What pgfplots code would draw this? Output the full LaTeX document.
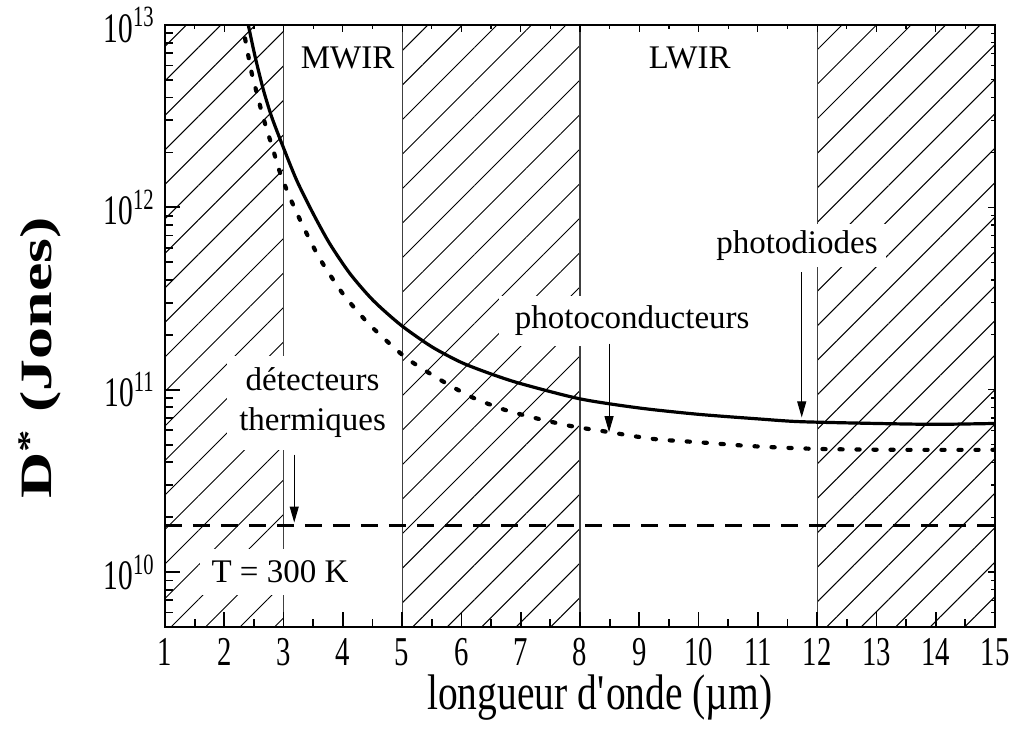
\documentclass[border=0pt]{standalone}
\usepackage{fontspec}
\setmainfont{Liberation Serif}
\newfontfamily\condensed[FakeStretch=0.7]{Liberation Serif}
\newfontfamily\xlabfont[FakeStretch=0.79]{Liberation Serif}
\usepackage{pgfplots}
\pgfplotsset{compat=1.18}
\usetikzlibrary{patterns.meta,arrows.meta}

\begin{document}
\begin{tikzpicture}
\tikzset{
  hatch/.style={draw=black!75, line width=0.6pt,
    pattern={Lines[angle=45, distance=12.2pt, line width=0.5pt]}},
  annot/.style={font=\fontsize{16.5}{20}\selectfont, fill=white},
  arr/.style={line width=0.5pt, -{Triangle[length=8pt, width=4.5pt]}},
}
\begin{axis}[
  scale only axis, width=415pt, height=301pt,
  ymode=log, xmin=1, xmax=15, ymin=5e9, ymax=1e13,
  xtick={1,...,15}, minor x tick num=1,
  ytick={1e10,1e11,1e12,1e13},
  yticklabels={10\textsuperscript{10},10\textsuperscript{11},10\textsuperscript{12},10\textsuperscript{13}},
  minor ytick={6e9,7e9,8e9,9e9,2e10,3e10,4e10,5e10,6e10,7e10,8e10,9e10,
    2e11,3e11,4e11,5e11,6e11,7e11,8e11,9e11,2e12,3e12,4e12,5e12,6e12,7e12,8e12,9e12},
  tick align=inside, xtick pos=bottom, ytick pos=left,
  major tick length=7.5pt, minor tick length=4pt,
  every tick/.style={black, line width=0.9pt},
  axis line style={line width=1.1pt},
  axis on top,
  /pgf/number format/assume math mode=true,
  xticklabel style={font=\condensed\fontsize{20.5}{20.5}\selectfont, inner sep=0pt, yshift=-5.5pt},
  yticklabel style={font=\condensed\fontsize{21}{21}\selectfont, inner sep=0pt, xshift=-5pt},
  xlabel={\xlabfont\fontsize{25}{25}\selectfont longueur d\textquotesingle onde (µm)},
  xlabel style={at={(axis description cs:0.524,-0.118)}, anchor=center, inner sep=0pt},
  ylabel={\scalebox{1}[0.7]{\bfseries\fontsize{32}{32}\selectfont D\textsuperscript{*}\ (Jones)}},
  ylabel style={at={(axis description cs:-0.1506,0.447)}, anchor=center},
]
% hatched bands
\addplot[hatch] coordinates {(1,5e9) (3,5e9) (3,1e13) (1,1e13)} -- cycle;
\addplot[hatch] coordinates {(5,5e9) (8,5e9) (8,1e13) (5,1e13)} -- cycle;
\addplot[hatch] coordinates {(12,5e9) (15,5e9) (15,1e13) (12,1e13)} -- cycle;

% labels
\node[font=\fontsize{16.5}{19}\selectfont] at (axis cs:4.08,6.6e12) {MWIR};
\node[font=\fontsize{16.5}{19}\selectfont] at (axis cs:9.85,6.6e12) {LWIR};
\node[annot, inner xsep=4pt] at (axis cs:11.66,6.2e11) {photodiodes};
\node[annot, inner xsep=8pt, inner ysep=5pt] at (axis cs:8.88,2.39e11) {photoconducteurs};
\node[annot, align=center, inner sep=6pt] at (axis cs:3.49,8.5e10) {détecteurs\\thermiques};
\node[annot, inner sep=6pt] at (axis cs:2.94,1e10) {T = 300 K};

% photodiodes
\addplot[black, line width=1.6pt, smooth, tension=0.45] coordinates {
  (2.405,1.0e13) (2.52,6.70e12) (2.66,4.40e12) (2.80,3.13e12) (2.97,2.24e12)
  (3.22,1.41e12) (3.50,9.23e11) (3.78,6.31e11) (4.12,4.33e11) (4.51,3.09e11)
  (4.98,2.26e11) (5.5,1.72e11) (6.0,1.41e11) (6.5,1.22e11) (7.0,1.08e11)
  (8.0,8.91e10) (9.0,7.94e10) (10.0,7.33e10) (11.0,6.92e10) (11.71,6.68e10)
  (13.0,6.53e10) (14.0,6.46e10) (15.0,6.53e10)};
% photoconducteurs
\addplot[black, line width=2.1pt, line cap=round, dash pattern=on 1.6pt off 6.9pt,
  smooth, tension=0.45] coordinates {
  (2.35,8.45e12) (2.46,5.50e12) (2.55,4.22e12) (2.63,3.34e12) (2.72,2.65e12)
  (2.82,2.09e12) (2.91,1.66e12) (3.01,1.35e12) (3.14,1.07e12) (3.28,8.51e11)
  (3.43,6.76e11) (3.59,5.37e11) (3.77,4.33e11) (3.98,3.43e11) (4.22,2.75e11)
  (4.50,2.19e11) (5.05,1.51e11) (5.61,1.15e11) (6.17,9.12e10) (6.73,7.76e10)
  (7.30,6.92e10) (7.86,6.31e10) (8.44,5.89e10) (9.24,5.37e10) (10.08,5.13e10)
  (10.92,4.90e10) (12.05,4.73e10) (13.5,4.68e10) (15.0,4.68e10)};
% thermal detectors
\addplot[black, line width=1.9pt, dash pattern=on 8.5pt off 5.5pt] coordinates {
  (1,1.8e10) (15,1.8e10)};

% arrows
\draw[arr] (axis cs:3.18,4.4e10) -- (axis cs:3.18,1.87e10);
\draw[arr] (axis cs:8.49,1.79e11) -- (axis cs:8.49,5.85e10);
\draw[arr] (axis cs:11.74,4.4e11) -- (axis cs:11.74,7.05e10);
\end{axis}
% mirrored small ticks on top and right
\begin{axis}[
  scale only axis, width=415pt, height=301pt,
  ymode=log, xmin=1, xmax=15, ymin=5e9, ymax=1e13,
  xtick={1,...,15}, minor x tick num=1,
  ytick={1e10,1e11,1e12,1e13},
  minor ytick={6e9,7e9,8e9,9e9,2e10,3e10,4e10,5e10,6e10,7e10,8e10,9e10,
    2e11,3e11,4e11,5e11,6e11,7e11,8e11,9e11,2e12,3e12,4e12,5e12,6e12,7e12,8e12,9e12},
  tick align=inside, xtick pos=top, ytick pos=right,
  xticklabels={}, yticklabels={},
  major tick length=3.5pt, minor tick length=2pt,
  every tick/.style={black, line width=0.6pt},
  axis line style={line width=1.1pt},
]
\end{axis}
\pgfresetboundingbox
\useasboundingbox (-82.5pt,-51pt) rectangle (424pt,313.5pt);
\end{tikzpicture}
\end{document}
